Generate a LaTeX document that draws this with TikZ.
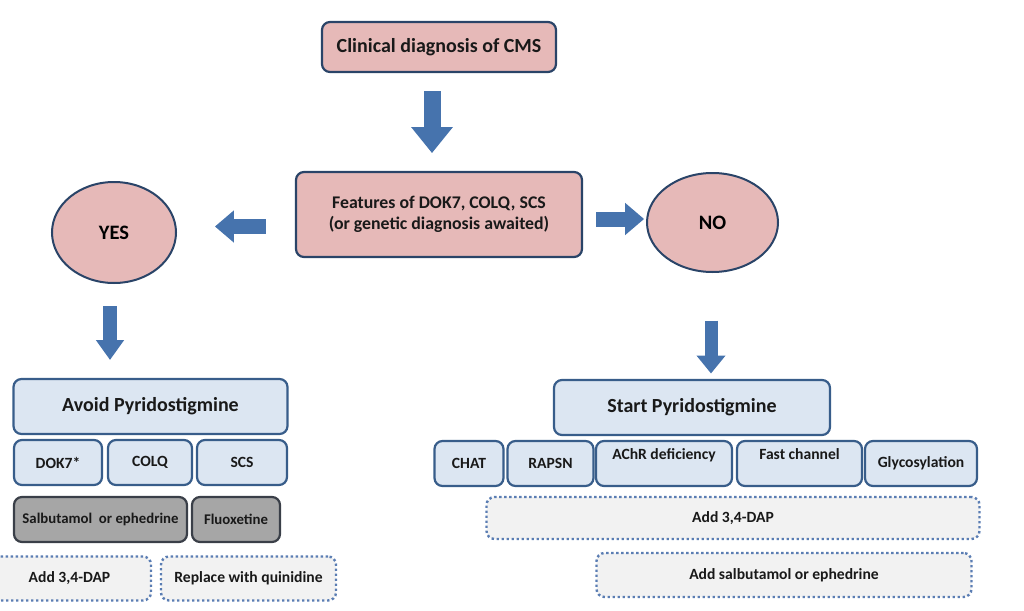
\documentclass[tikz,border=0pt]{standalone}
\usepackage{fontspec}
\setmainfont{Carlito}
\usetikzlibrary{positioning, shapes.geometric, arrows.meta}
\definecolor{pinkfill}{HTML}{E6B9B8}
\definecolor{pinkline}{HTML}{2A4468}
\definecolor{bluefill}{HTML}{DCE6F2}
\definecolor{blueline}{HTML}{385D8A}
\definecolor{greyfill}{HTML}{A6A6A6}
\definecolor{greyline}{HTML}{3A3F48}
\definecolor{dotfill}{HTML}{F2F2F2}
\definecolor{dotline}{HTML}{5A7DB3}
\definecolor{arrowblue}{HTML}{4673AD}

\begin{document}
\begin{tikzpicture}[x=1pt,y=-1pt,on grid,
  box/.style={draw=blueline, line width=2.2pt, rounded corners=8pt, inner sep=0pt, text=black!90},
  pinkbox/.style={box, fill=pinkfill, draw=pinkline},
  bluebox/.style={box, fill=bluefill, minimum height=45pt, font=\bfseries\fontsize{15.6}{18}\selectfont},
  headbox/.style={bluebox, minimum width=274pt, minimum height=55pt, font=\bfseries\fontsize{20}{24}\selectfont},
  greybox/.style={box, fill=greyfill, draw=greyline, minimum height=45pt, font=\bfseries\fontsize{14.8}{17}\selectfont},
  dotbox/.style={box, fill=dotfill, draw=dotline, line width=2.4pt, dash pattern=on 2.4pt off 2.6pt, minimum height=44pt, font=\bfseries\fontsize{15.6}{18}\selectfont},
  answer/.style={ellipse, draw=pinkline, fill=pinkfill, line width=2pt, inner sep=0pt, font=\bfseries\fontsize{20.5}{24}\selectfont},
  raised/.style={text height=11pt, text depth=19pt},
  blk/.style={draw=arrowblue, line width=15pt, -{Triangle[length=19pt,width=31pt]}},
  bigblk/.style={blk, line width=17pt, -{Triangle[length=26pt,width=40pt]}}]
  \useasboundingbox (0,0) rectangle (1024,610);

  % question and answers
  \node[pinkbox, minimum width=234pt, minimum height=50pt, font=\bfseries\fontsize{20}{24}\selectfont] (clin) at (439,47) {Clinical diagnosis of CMS};
  \node[pinkbox, minimum width=286pt, minimum height=85pt, align=center, font=\bfseries\fontsize{17.8}{21}\selectfont] (feat) [below=167.5pt of clin] {Features of DOK7, COLQ, SCS\\(or genetic diagnosis awaited)};
  \node[answer, minimum width=124pt, minimum height=101pt] (yes) [below left=18pt and 325pt of feat] {YES};
  \node[answer, minimum width=131pt, minimum height=99pt] (no) [below right=8pt and 273.5pt of feat] {NO};

  % YES branch
  \node[headbox] (avoid) [below right=174pt and 36.5pt of yes] {Avoid Pyridostigmine};
  \node[bluebox, minimum width=88pt] (dok) [below left=56pt and 92.5pt of avoid] {DOK7*};
  \node[bluebox, minimum width=84pt] (colq) [right=92pt of dok] {COLQ};
  \node[bluebox, minimum width=90pt] (scs) [right=92pt of colq] {SCS};
  \node[greybox, minimum width=173pt] (salb) [below right=57pt and 42.5pt of dok] {Salbutamol~ or ephedrine};
  \node[greybox, minimum width=88pt] (fluox) [right=135.5pt of salb] {Fluoxetine};
  \node[dotbox, minimum width=163pt] (dapl) [below left=59pt and 31pt of salb] {Add 3,4-DAP};
  \node[dotbox, minimum width=175pt] (quin) [right=179pt of dapl] {Replace with quinidine};

  % NO branch
  \node[headbox, minimum width=276pt] (start) [below left=185pt and 20.5pt of no] {Start Pyridostigmine};
  \node[bluebox, minimum width=69pt] (chat) [below left=56pt and 223pt of start] {CHAT};
  \node[bluebox, minimum width=86pt] (rapsn) [right=81.5pt of chat] {RAPSN};
  \node[bluebox, minimum width=136pt, raised] (achr) [right=113.5pt of rapsn] {AChR deficiency};
  \node[bluebox, minimum width=125pt, raised] (fast) [right=135.5pt of achr] {Fast channel};
  \node[bluebox, minimum width=112pt] (glyc) [right=121.5pt of fast] {Glycosylation};
  \node[dotbox, minimum width=493pt, minimum height=42pt] (dapr) [below right=54.5pt and 69pt of achr] {Add 3,4-DAP};
  \node[dotbox, minimum width=375pt] (salbr) [below right=57pt and 51pt of dapr] {Add salbutamol or ephedrine};

  % block arrows
  \draw[bigblk] ([shift={(-7,18)}]clin.south) -- ++(0,62);
  \draw[blk] ([shift={(-29,12)}]feat.west) -- ++(-51,0);
  \draw[blk] ([shift={(13,4.5)}]feat.east) -- ++(48,0);
  \draw[blk, line width=14pt, -{Triangle[length=20pt,width=27pt]}] ([shift={(-4,22)}]yes.south) -- ++(0,54);
  \draw[blk, line width=13pt, -{Triangle[length=18pt,width=28pt]}] ([shift={(-1.5,47.5)}]no.south) -- ++(0,53);
\end{tikzpicture}
\end{document}
